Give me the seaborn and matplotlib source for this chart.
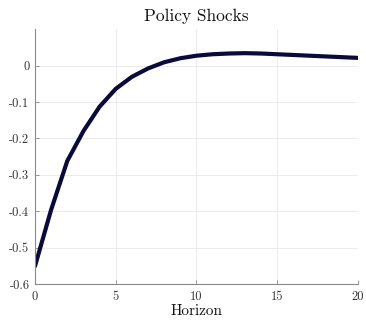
import matplotlib
matplotlib.use("Agg")
import matplotlib.pyplot as plt
import seaborn as sns
import pandas as pd

horizon = list(range(21))
response = [-0.551, -0.396, -0.262, -0.180, -0.113, -0.064, -0.031, -0.008,
            0.009, 0.020, 0.027, 0.031, 0.033, 0.034, 0.033, 0.031,
            0.029, 0.027, 0.025, 0.023, 0.021]
x_ticks = [0, 5, 10, 15, 20]
y_ticks = [-0.6, -0.5, -0.4, -0.3, -0.2, -0.1, 0.0]
y_tick_labels = ["-0.6", "-0.5", "-0.4", "-0.3", "-0.2", "-0.1", "0"]

sns.set_style("whitegrid")
plt.rcParams["font.family"] = ["serif"]
plt.rcParams["font.serif"] = ["cmr10", "DejaVu Serif"]
plt.rcParams["mathtext.fontset"] = "cm"
plt.rcParams["axes.unicode_minus"] = False

df = pd.DataFrame({"Horizon": horizon, "Response": response})

fig = plt.figure(figsize=(3.66, 3.20), dpi=100)
ax = fig.add_axes([0.0956, 0.1125, 0.8824, 0.7965])

sns.lineplot(data=df, x="Horizon", y="Response", ax=ax,
             color="#0b0b3b", linewidth=3.0)

ax.set_xlim(0, 20)
ax.set_ylim(-0.6, 0.1)
ax.set_xticks(x_ticks)
ax.set_xticklabels([str(t) for t in x_ticks])
ax.set_yticks(y_ticks)
ax.set_yticklabels(y_tick_labels)

ax.grid(True, color="#ececec", linewidth=0.7)
for side in ("top", "right"):
    ax.spines[side].set_visible(False)
for side in ("left", "bottom"):
    ax.spines[side].set_color("#8a8a8a")
    ax.spines[side].set_linewidth(0.8)

ax.tick_params(axis="both", direction="in", length=3, width=0.6,
               color="#8a8a8a", labelsize=9, labelcolor="#333333", pad=4)
ax.tick_params(axis="x", pad=5)
ax.tick_params(left=True, bottom=True)

ax.set_xlabel("Horizon", fontsize=11, labelpad=1, color="#111111")
ax.set_ylabel("")
ax.set_title("Policy Shocks", fontsize=12.5, pad=6, color="#111111")

fig.savefig("out.png", dpi=100)
